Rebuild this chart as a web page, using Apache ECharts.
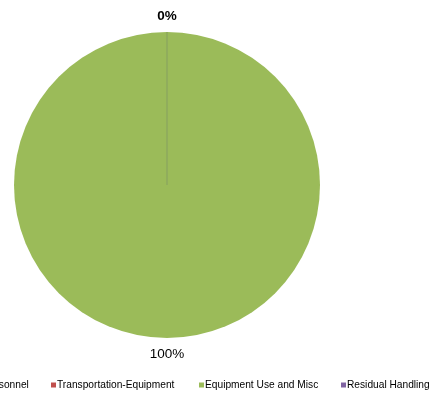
<!DOCTYPE html>
<html>
<head>
<meta charset="utf-8">
<script src="https://cdn.jsdelivr.net/npm/echarts@6/dist/echarts.min.js"></script>
<style>
html,body{margin:0;padding:0;background:#fff;}
#main{width:432px;height:393px;}
</style>
</head>
<body>
<div id="main"></div>
<script>
const categories = ['Personnel', 'Transportation-Equipment', 'Equipment Use and Misc', 'Residual Handling'];
const values = [0, 0, 100, 0];
const colors = ['#4F81BD', '#C0504D', '#9BBB59', '#8064A2'];

const legendLefts = [-23, 51, 199, 341];
const total = values.reduce((a, b) => a + b, 0);
const chart = echarts.init(document.getElementById('main'), null, {renderer: 'canvas'});
chart.setOption({
  animation: false,
  backgroundColor: '#ffffff',
  legend: categories.map((c, i) => ({
    top: 380,
    left: legendLefts[i],
    padding: 0,
    icon: 'rect',
    itemWidth: 5,
    itemHeight: 5,
    itemStyle: {borderWidth: 0},
    textStyle: {fontFamily: 'Liberation Sans, Arial', fontSize: 10.2, color: '#000', padding: [0, 0, 8, -4]},
    data: [c]
  })),
  series: [{
    type: 'pie',
    center: [167, 185],
    radius: 153,
    startAngle: 90,
    clockwise: true,
    avoidLabelOverlap: false,
    stillShowZeroSum: true,
    minAngle: 0,
    labelLine: {show: false, length: 16, length2: 0},
    labelLayout: {align: 'center', verticalAlign: 'middle'},
    label: {
      show: true,
      position: 'outside',
      distanceToLabelLine: 0,
      fontFamily: 'Liberation Sans, Arial',
      fontSize: 13.5,
      color: '#000',
      formatter: p => Math.round(p.value / total * 100) + '%'
    },
    emphasis: {disabled: true},
    data: categories.map((c, i) => ({
      name: c,
      value: values[i],
      label: {fontWeight: values[i] === 0 ? 'bold' : 'normal'},
      itemStyle: {
        color: colors[i],
        borderColor: values[i] === 0 ? 'rgba(130,150,100,0.45)' : colors[i],
        borderWidth: values[i] === 0 ? 1 : 0
      }
    }))
  }]
});
</script>
</body>
</html>
